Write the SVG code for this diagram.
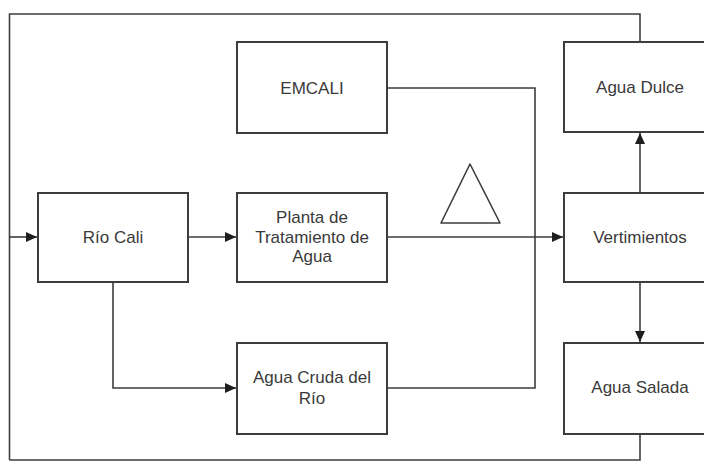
<svg xmlns="http://www.w3.org/2000/svg" width="704" height="461" viewBox="0 0 704 461">
  <style>
    .box { fill: #ffffff; stroke: #3d3d3d; stroke-width: 2; }
    .wire { fill: none; stroke: #3d3d3d; stroke-width: 1.6; }
    .lbl { font-family: "Liberation Sans", Arial, sans-serif; font-size: 17px; fill: #3a3a3a; text-anchor: middle; }
  </style>
  <defs>
    <marker id="arrow" markerUnits="userSpaceOnUse" markerWidth="12" markerHeight="12" viewBox="0 0 12 12" refX="11" refY="6" orient="auto">
      <path d="M0,1 L11,6 L0,11 Z" fill="#1e1e1e"/>
    </marker>
  </defs>
  <rect width="704" height="461" fill="#ffffff"/>

  <!-- connectors -->
  <g id="connectors">
    <!-- return loop from Agua Dulce and Agua Salada back into Río Cali -->
    <path class="wire" d="M640,42 V14 H9.5 V460"/>
    <path class="wire" d="M640,434 V460 H9.5"/>
    <path class="wire" d="M9.5,237 H37" marker-end="url(#arrow)"/>
    <!-- Río Cali to Planta -->
    <path class="wire" d="M188,237 H236" marker-end="url(#arrow)"/>
    <!-- Río Cali to Agua Cruda -->
    <path class="wire" d="M113,282 V388 H236" marker-end="url(#arrow)"/>
    <!-- Planta to Vertimientos -->
    <path class="wire" d="M387,237 H563" marker-end="url(#arrow)"/>
    <!-- EMCALI and Agua Cruda joining the vertical bus -->
    <path class="wire" d="M387,88 H535 V388 H387"/>
    <!-- Vertimientos to Agua Dulce / Agua Salada -->
    <path class="wire" d="M640,193 V133" marker-end="url(#arrow)"/>
    <path class="wire" d="M640,282 V342" marker-end="url(#arrow)"/>
  </g>

  <!-- warning triangle -->
  <polygon points="470,164 441,223 500,223" fill="none" stroke="#3d3d3d" stroke-width="1.6" stroke-linejoin="round"/>

  <g id="emcali">
    <rect class="box" x="237" y="42" width="150" height="91"/>
    <text class="lbl" x="312" y="94">EMCALI</text>
  </g>
  <g id="rio-cali">
    <rect class="box" x="38" y="193" width="150" height="89"/>
    <text class="lbl" x="113" y="243">Río Cali</text>
  </g>
  <g id="planta">
    <rect class="box" x="237" y="193" width="150" height="89"/>
    <text class="lbl" x="312" y="223">Planta de</text>
    <text class="lbl" x="312" y="242.5">Tratamiento de</text>
    <text class="lbl" x="312" y="262">Agua</text>
  </g>
  <g id="agua-cruda">
    <rect class="box" x="237" y="343" width="150" height="91"/>
    <text class="lbl" x="312" y="383">Agua Cruda del</text>
    <text class="lbl" x="312" y="404">Río</text>
  </g>
  <g id="agua-dulce">
    <rect class="box" x="564" y="42" width="152" height="90"/>
    <text class="lbl" x="640" y="93">Agua Dulce</text>
  </g>
  <g id="vertimientos">
    <rect class="box" x="564" y="193" width="152" height="89"/>
    <text class="lbl" x="640" y="243">Vertimientos</text>
  </g>
  <g id="agua-salada">
    <rect class="box" x="564" y="343" width="152" height="91"/>
    <text class="lbl" x="640" y="393">Agua Salada</text>
  </g>
</svg>
